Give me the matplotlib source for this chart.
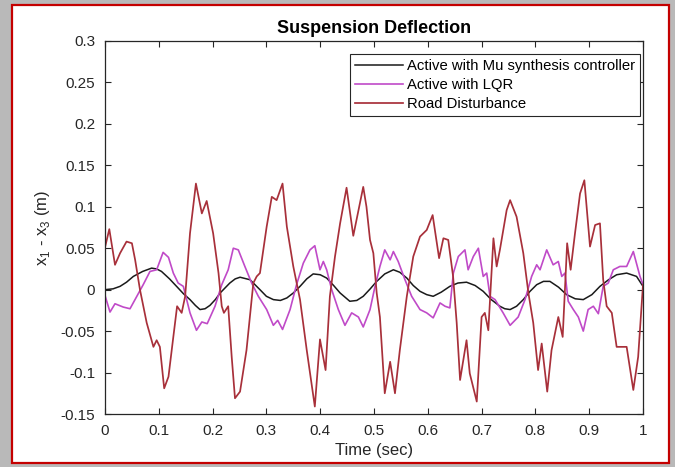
import matplotlib
matplotlib.use("Agg")
import matplotlib.pyplot as plt
from matplotlib.patches import Rectangle
from matplotlib.ticker import FormatStrFormatter

plt.rcParams['font.family'] = ['Liberation Sans', 'DejaVu Sans']
plt.rcParams['mathtext.fontset'] = 'custom'
plt.rcParams['mathtext.rm'] = 'Liberation Sans'

# road disturbance
t_road = [0.000, 0.008, 0.0186, 0.028, 0.040, 0.050, 0.056, 0.065, 0.0775, 0.090,
          0.096, 0.102, 0.110, 0.118, 0.127, 0.134, 0.1425, 0.149, 0.158, 0.169,
          0.180, 0.189, 0.201, 0.211, 0.217, 0.221, 0.229, 0.2355, 0.2416, 0.251,
          0.263, 0.2757, 0.282, 0.288, 0.3005, 0.310, 0.319, 0.330, 0.338, 0.350,
          0.3625, 0.375, 0.390, 0.3996, 0.410, 0.418, 0.4275, 0.437, 0.449, 0.4615,
          0.480, 0.486, 0.4926, 0.4988, 0.505, 0.511, 0.520, 0.530, 0.539, 0.548,
          0.561, 0.573, 0.5855, 0.598, 0.609, 0.621, 0.629, 0.638, 0.647, 0.6537,
          0.660, 0.672, 0.678, 0.691, 0.700, 0.706, 0.7125, 0.722, 0.728, 0.734,
          0.7466, 0.753, 0.765, 0.7775, 0.787, 0.796, 0.805, 0.8117, 0.822, 0.830,
          0.8426, 0.8507, 0.859, 0.8655, 0.8736, 0.883, 0.891, 0.9015, 0.911, 0.920,
          0.926, 0.9325, 0.942, 0.951, 0.9696, 0.982, 0.991, 1.000]
road = [0.051, 0.073, 0.030, 0.044, 0.058, 0.056, 0.036, 0.000, -0.040, -0.069,
        -0.061, -0.069, -0.119, -0.105, -0.057, -0.020, -0.028, -0.008, 0.068, 0.128,
        0.092, 0.107, 0.068, 0.020, -0.020, -0.028, -0.020, -0.081, -0.131, -0.123,
        -0.073, 0.008, 0.016, 0.020, 0.076, 0.112, 0.108, 0.128, 0.076, 0.028,
        -0.012, -0.073, -0.141, -0.060, -0.097, -0.008, 0.040, 0.080, 0.123, 0.065,
        0.124, 0.100, 0.060, 0.044, -0.004, -0.033, -0.125, -0.087, -0.125, -0.073,
        -0.008, 0.040, 0.064, 0.072, 0.090, 0.038, 0.062, 0.060, 0.016, -0.040,
        -0.109, -0.061, -0.101, -0.135, -0.033, -0.028, -0.049, 0.062, 0.028, 0.048,
        0.096, 0.108, 0.088, 0.044, -0.004, -0.040, -0.097, -0.065, -0.123, -0.073,
        -0.033, -0.057, 0.056, 0.024, 0.068, 0.116, 0.132, 0.052, 0.078, 0.080,
        0.012, -0.020, -0.028, -0.069, -0.069, -0.121, -0.081, 0.006]

# active with mu synthesis controller
t_mu = [0.000, 0.015, 0.028, 0.040, 0.0527, 0.070, 0.0867, 0.096, 0.105, 0.120,
        0.133, 0.146, 0.158, 0.168, 0.1766, 0.186, 0.195, 0.205, 0.214, 0.223,
        0.232, 0.242, 0.251, 0.2695, 0.288, 0.300, 0.313, 0.326, 0.338, 0.350,
        0.3625, 0.375, 0.387, 0.400, 0.412, 0.425, 0.437, 0.455, 0.468, 0.480,
        0.493, 0.505, 0.520, 0.536, 0.548, 0.561, 0.573, 0.5855, 0.598, 0.610,
        0.625, 0.641, 0.656, 0.672, 0.688, 0.703, 0.718, 0.734, 0.743, 0.753,
        0.765, 0.7775, 0.790, 0.8024, 0.815, 0.827, 0.843, 0.858, 0.874, 0.889,
        0.905, 0.920, 0.936, 0.951, 0.9696, 0.988, 1.000]
mu = [0.000, 0.001, 0.004, 0.009, 0.016, 0.022, 0.026, 0.025, 0.022, 0.013,
      0.004, -0.005, -0.012, -0.019, -0.024, -0.023, -0.019, -0.012, -0.004, 0.002,
      0.008, 0.013, 0.015, 0.012, 0.000, -0.008, -0.012, -0.013, -0.010, -0.004,
      0.004, 0.013, 0.019, 0.018, 0.014, 0.005, -0.004, -0.014, -0.013, -0.008,
      0.001, 0.010, 0.019, 0.024, 0.021, 0.014, 0.005, -0.002, -0.006, -0.008,
      -0.003, 0.004, 0.008, 0.009, 0.005, -0.002, -0.012, -0.020, -0.023, -0.024,
      -0.020, -0.012, -0.002, 0.006, 0.010, 0.010, 0.003, -0.006, -0.011, -0.012,
      -0.006, 0.004, 0.012, 0.018, 0.020, 0.016, 0.004]

# active with LQR
t_lqr = [0.000, 0.0093, 0.0186, 0.034, 0.0465, 0.071, 0.0836, 0.096, 0.108, 0.118,
         0.127, 0.136, 0.1456, 0.158, 0.170, 0.180, 0.190, 0.2045, 0.217, 0.229,
         0.2385, 0.2478, 0.260, 0.2726, 0.285, 0.3005, 0.3129, 0.321, 0.330, 0.344,
         0.356, 0.3686, 0.381, 0.390, 0.3996, 0.4058, 0.412, 0.4214, 0.4337, 0.446,
         0.4585, 0.471, 0.480, 0.4926, 0.5019, 0.511, 0.520, 0.530, 0.536, 0.545,
         0.5576, 0.570, 0.5855, 0.598, 0.610, 0.6227, 0.632, 0.641, 0.6475, 0.6567,
         0.669, 0.675, 0.6846, 0.694, 0.703, 0.7095, 0.7156, 0.725, 0.740, 0.753,
         0.768, 0.7807, 0.793, 0.8024, 0.8086, 0.821, 0.833, 0.8426, 0.849, 0.855,
         0.861, 0.8705, 0.8798, 0.889, 0.898, 0.9077, 0.917, 0.926, 0.9355, 0.9448,
         0.957, 0.9696, 0.982, 0.9944, 1.000]
lqr = [-0.007, -0.027, -0.017, -0.021, -0.023, 0.006, 0.022, 0.024, 0.045, 0.039,
       0.020, 0.008, 0.004, -0.028, -0.049, -0.039, -0.041, -0.020, 0.006, 0.024,
       0.050, 0.048, 0.028, 0.008, -0.008, -0.024, -0.043, -0.037, -0.048, -0.024,
       0.006, 0.032, 0.048, 0.053, 0.024, 0.034, 0.024, 0.000, -0.024, -0.043,
       -0.028, -0.033, -0.045, -0.024, 0.004, 0.028, 0.048, 0.036, 0.046, 0.034,
       0.012, -0.008, -0.024, -0.028, -0.034, -0.016, -0.020, -0.022, 0.020, 0.040,
       0.048, 0.024, 0.040, 0.050, 0.016, 0.020, -0.008, -0.012, -0.028, -0.043,
       -0.033, -0.012, 0.016, 0.030, 0.024, 0.048, 0.030, 0.034, 0.016, 0.020,
       -0.014, -0.024, -0.033, -0.050, -0.024, -0.020, -0.029, 0.004, 0.008, 0.024,
       0.028, 0.028, 0.046, 0.016, 0.006]

xticks = [0, 0.1, 0.2, 0.3, 0.4, 0.5, 0.6, 0.7, 0.8, 0.9, 1]
yticks = [-0.15, -0.1, -0.05, 0, 0.05, 0.1, 0.15, 0.2, 0.25, 0.3]

fig = plt.figure(figsize=(6.75, 4.67), dpi=100, facecolor='#b9b9b9')
# white frame with red border, kept behind the axes
fig.patches.append(Rectangle((12/675, 4/467), 657/675, 458/467, transform=fig.transFigure,
                             facecolor='white', edgecolor='#c40000', lw=1.6, zorder=-10))

ax = fig.add_axes([105/675, 53/467, 538/675, 373/467])
ax.set_zorder(5)
ax.plot(t_mu, mu, color='#1a1a1a', lw=1.1, label='Active with Mu synthesis controller')
ax.plot(t_lqr, lqr, color='#c04ac8', lw=1.2, label='Active with LQR')
ax.plot(t_road, road, color='#a8303a', lw=1.25, label='Road Disturbance')

ax.set_xlim(0, 1)
ax.set_ylim(-0.15, 0.3)
ax.set_xticks(xticks)
ax.set_yticks(yticks)
ax.xaxis.set_major_formatter(FormatStrFormatter('%g'))
ax.yaxis.set_major_formatter(FormatStrFormatter('%g'))
ax.tick_params(direction='in', top=True, right=True, length=4, width=0.8,
               colors='#262626', labelsize=11, pad=7)
for s in ax.spines.values():
    s.set_color('#262626')
    s.set_linewidth(0.9)

ax.set_title('Suspension Deflection', fontsize=13, fontweight='bold', pad=6)
ax.set_xlabel('Time (sec)', fontsize=12, color='#262626', labelpad=4)
ax.set_ylabel(r'x$_{\mathregular{1}}$ - x$_{\mathregular{3}}$ (m)', fontsize=12,
              color='#262626', labelpad=6)

leg = ax.legend(loc='upper right', bbox_to_anchor=(0.995, 0.965), fontsize=10.7,
                fancybox=False, framealpha=1, edgecolor='#262626', handlelength=3.2,
                borderpad=0.35, labelspacing=0.32, handletextpad=0.3, borderaxespad=0)
leg.get_frame().set_linewidth(0.8)

plt.savefig('out.png', dpi=100, facecolor=fig.get_facecolor())
